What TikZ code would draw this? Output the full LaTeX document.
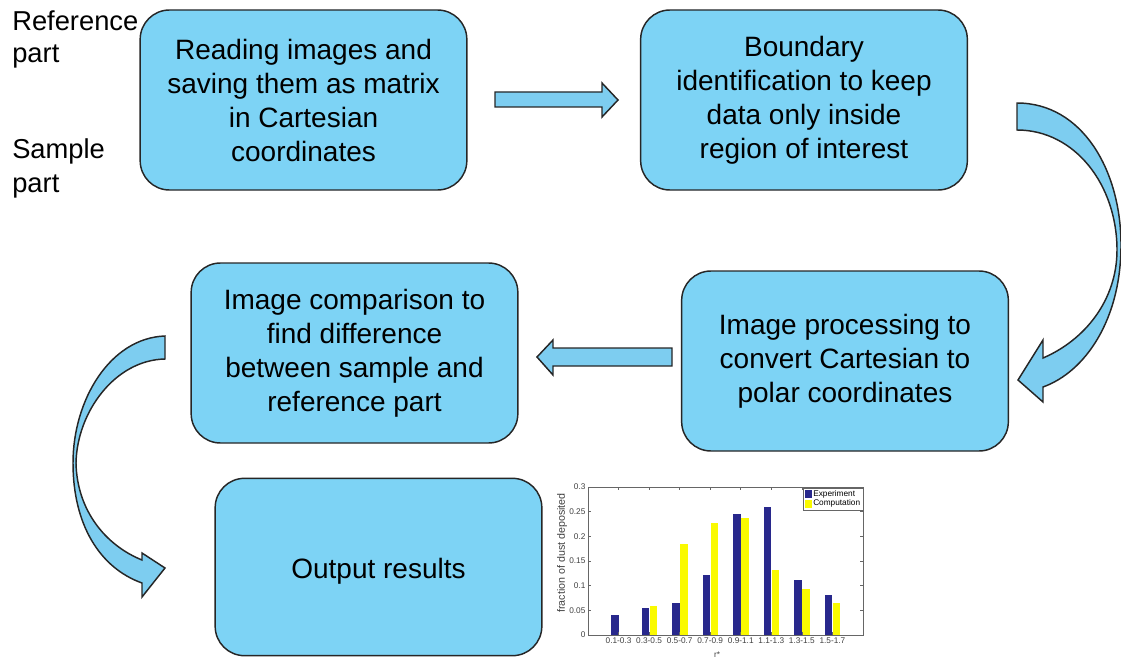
\documentclass[tikz,border=0pt]{standalone}
\usepackage{fontspec}
\setmainfont{Liberation Sans}
\begin{document}
\begin{tikzpicture}[x=0.75pt,y=-0.75pt]
\useasboundingbox (0,0) rectangle (1121,660);
\definecolor{boxblue}{RGB}{125,211,245}
\definecolor{arrowblue}{RGB}{125,205,240}
\definecolor{expblue}{RGB}{40,40,140}
\definecolor{compyellow}{RGB}{250,250,0}
\tikzset{
  stepbox/.style={draw=black!85, line width=1.1pt, fill=boxblue, rounded corners=22pt,
    minimum width=245pt, minimum height=135pt, align=center, inner sep=0pt,
    font=\fontsize{21}{25.5}\selectfont},
  blockarrow/.style={draw=black!85, line width=1.1pt, fill=arrowblue, line join=miter},
  sidelabel/.style={anchor=base west, inner sep=0pt, font=\fontsize{20.5}{24}\selectfont},
  tick/.style={font=\fontsize{6.2}{7}\selectfont, inner sep=1pt},
  axisline/.style={draw=black!60, line width=0.4pt}
}
% boxes
\node[stepbox] (read) at (303.5,100) {Reading images and\\saving them as matrix\\in Cartesian\\coordinates};
\node[stepbox] (bound) at (804,100) {Boundary\\identification to keep\\data only inside\\region of interest};
\node[stepbox] (proc) at (845,361) {Image processing to\\convert Cartesian to\\polar coordinates};
\node[stepbox] (comp) at (354.5,353) {Image comparison to\\find difference\\between sample and\\reference part};
\node[stepbox, minimum height=133pt] (out) at (378.5,567) {};
\node[font=\fontsize{21}{25.5}\selectfont, inner sep=0pt] (outtext) at (378.5,571) {Output results};
% side labels
\node[sidelabel] (ref1) at (12,31) {Reference};
\node[sidelabel] (ref2) at (12,63) {part};
\node[sidelabel] (sam1) at (12,158) {Sample};
\node[sidelabel] (sam2) at (12,192) {part};
% straight block arrows
\draw[blockarrow] (495,92) -- (602,92) -- (602,83) -- (618,100) -- (602,117) -- (602,107) -- (495,107) -- cycle;
\draw[blockarrow] (672,348) -- (553,348) -- (553,340) -- (537,357) -- (553,375) -- (553,366) -- (672,366) -- cycle;
% curved block arrows
\draw[blockarrow] (1017,103) .. controls (1082,103) and (1121,170) .. (1121,245)
  .. controls (1121,320) and (1085,372) .. (1043,387) -- (1043,402) -- (1018,380) -- (1043,340) -- (1043,358)
  .. controls (1085,340) and (1117,300) .. (1117,250)
  .. controls (1117,185) and (1075,130) .. (1017,130) -- cycle;
\draw[blockarrow] (165,336) .. controls (110,338) and (73,400) .. (73,463)
  .. controls (73,525) and (100,568) .. (142,583) -- (142,597) -- (165,568) -- (142,553) -- (142,560)
  .. controls (105,545) and (77,510) .. (76,463)
  .. controls (77,412) and (115,360) .. (165,359) -- cycle;
% chart
\begin{scope}
\def\xo{588}\def\xr{863}\def\yb{635}\def\yt{487}
\fill[white] (\xo,\yt) rectangle (\xr,\yb);
\foreach \k/\e/\c in {1/0.040/0, 2/0.055/0.058, 3/0.065/0.185, 4/0.122/0.227, 5/0.245/0.238, 6/0.260/0.131, 7/0.112/0.093, 8/0.082/0.064}{
  \pgfmathsetmacro{\cx}{588+30.55*\k}
  \pgfmathsetmacro{\ye}{635-493.3*\e}
  \pgfmathsetmacro{\yc}{635-493.3*\c}
  \fill[expblue] (\cx-7.5,635) rectangle (\cx,\ye);
  \fill[compyellow] (\cx+0.5,635) rectangle (\cx+8,\yc);
}
\draw[axisline] (\xo,\yt) rectangle (\xr,\yb);
\foreach \v/\lab in {0/0,0.05/0.05,0.1/0.1,0.15/0.15,0.2/0.2,0.25/0.25,0.3/0.3}{
  \pgfmathsetmacro{\yy}{635-493.3*\v}
  \draw[axisline] (\xo,\yy) -- (\xo+3,\yy);
  \draw[axisline] (\xr,\yy) -- (\xr-3,\yy);
  \node[tick, anchor=east, text=black!75] at (\xo-1,\yy) {\lab};
}
\foreach \k/\lab in {1/0.1-0.3,2/0.3-0.5,3/0.5-0.7,4/0.7-0.9,5/0.9-1.1,6/1.1-1.3,7/1.3-1.5,8/1.5-1.7}{
  \pgfmathsetmacro{\cx}{588+30.55*\k}
  \draw[axisline] (\cx,\yb) -- (\cx,\yb-3);
  \draw[axisline] (\cx,\yt) -- (\cx,\yt+3);
  \node[tick, anchor=north, text=black!75] at (\cx,\yb+1) {\lab};
}
\node[tick, text=black!75] (rstar) at (717,655) {r*};
\node[tick, rotate=90, text=black!75, font=\fontsize{8}{9}\selectfont] (ylab) at (562,553) {fraction of dust deposited};
% legend
\draw[axisline, fill=white] (803,488) rectangle (863,510);
\fill[expblue] (805,490) rectangle (812,498);
\fill[compyellow] (805,499.5) rectangle (812,507.5);
\node[tick, anchor=west, inner sep=0pt] (lexp) at (813,494) {Experiment};
\node[tick, anchor=west, inner sep=0pt] (lcomp) at (813,503.5) {Computation};
\end{scope}
\end{tikzpicture}
\end{document}
